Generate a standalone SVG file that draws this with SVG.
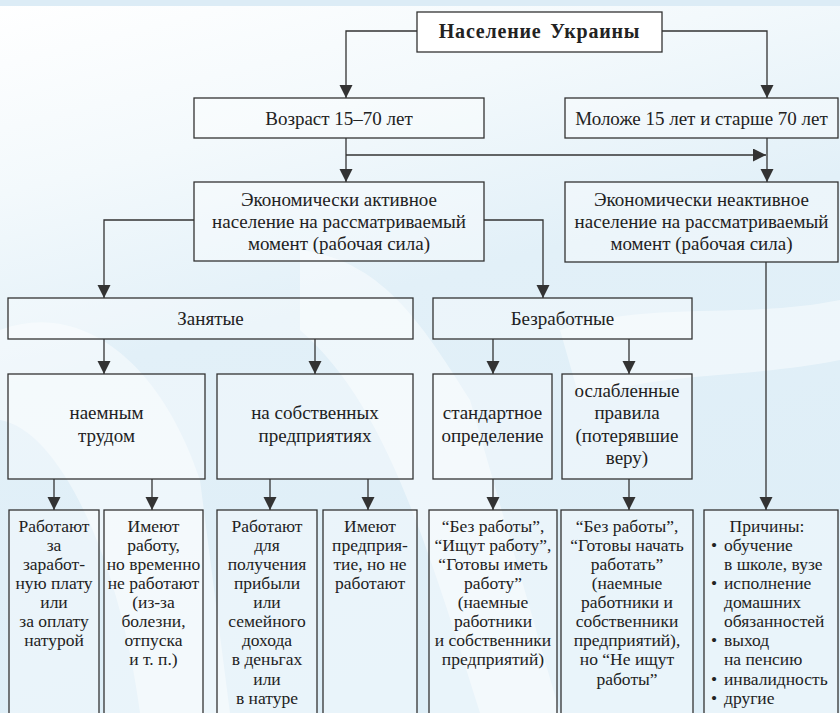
<svg xmlns="http://www.w3.org/2000/svg" width="840" height="713" viewBox="0 0 840 713" font-family="Liberation Serif, Times New Roman, Times, serif">
<defs>
<marker id="ah" markerUnits="userSpaceOnUse" markerWidth="14" markerHeight="14" refX="13" refY="6.5" orient="auto" viewBox="0 0 14 14">
<path d="M0,0 L13,6.5 L0,13 z" fill="#333"/>
</marker>
<linearGradient id="bg" x1="0" y1="0" x2="0.3" y2="1">
<stop offset="0" stop-color="#ffffff"/>
<stop offset="0.25" stop-color="#f3f9fc"/>
<stop offset="0.5" stop-color="#e2f0f8"/>
<stop offset="1" stop-color="#deeef7"/>
</linearGradient>
</defs>
<style>
text{font-family:"Liberation Serif","Times New Roman",Times,serif !important;font-style:normal}
.box{fill:#ffffff;fill-opacity:0.35;stroke:#333;stroke-width:1.3}
.c{fill:none;stroke:#333;stroke-width:1.3}
.m{font-size:19px;fill:#222;text-anchor:middle;font-weight:normal}
.s{font-size:17.5px;fill:#222;text-anchor:middle;font-weight:normal}
.sl{font-size:17.5px;fill:#222;text-anchor:start;font-weight:normal}
</style>
<rect x="0" y="0" width="840" height="713" fill="url(#bg)"/>
<rect x="0" y="0" width="840" height="6" fill="#dcecf6"/>
<g fill="#ffffff" fill-opacity="0.45">
<path d="M0,330 C80,300 160,360 200,480 L230,713 L140,713 C120,560 60,430 0,420 z"/>
<path d="M300,250 C380,260 420,320 470,400 L560,713 L480,713 C420,520 380,400 300,330 z"/>
<path d="M560,330 C650,300 740,320 840,300 L840,360 C740,380 660,370 580,400 z"/>
</g>

<g id="connectors">
<path class="c" d="M417,31 H346 V98" marker-end="url(#ah)"/>
<path class="c" d="M662,31 H767 V98" marker-end="url(#ah)"/>
<path class="c" d="M346,138 V182" marker-end="url(#ah)"/>
<path class="c" d="M346,155 H766" marker-end="url(#ah)"/>
<path class="c" d="M767,138 V182" marker-end="url(#ah)"/>
<path class="c" d="M194,220 H104 V298" marker-end="url(#ah)"/>
<path class="c" d="M484,220 H543 V298" marker-end="url(#ah)"/>
<path class="c" d="M104,339 V374" marker-end="url(#ah)"/>
<path class="c" d="M315,339 V374" marker-end="url(#ah)"/>
<path class="c" d="M493,339 V374" marker-end="url(#ah)"/>
<path class="c" d="M629,339 V374" marker-end="url(#ah)"/>
<path class="c" d="M54,479 V510" marker-end="url(#ah)"/>
<path class="c" d="M152,479 V510" marker-end="url(#ah)"/>
<path class="c" d="M270,479 V510" marker-end="url(#ah)"/>
<path class="c" d="M368,479 V510" marker-end="url(#ah)"/>
<path class="c" d="M493,479 V510" marker-end="url(#ah)"/>
<path class="c" d="M629,479 V510" marker-end="url(#ah)"/>
<path class="c" d="M766,262 V510" marker-end="url(#ah)"/>
</g>

<g id="n-root">
<rect class="box" x="417" y="12" width="245" height="40" style="fill-opacity:1"/>
<text x="539.5" y="38" font-family="Liberation Serif" font-size="20" font-weight="bold" letter-spacing="0.8" word-spacing="3" fill="#222" text-anchor="middle">Население Украины</text>
</g>
<g id="n-age">
<rect class="box" x="194" y="98" width="290" height="40"/>
<text class="m" x="339" y="125">Возраст 15–70 лет</text>
</g>
<g id="n-other-age">
<rect class="box" x="565" y="98" width="273" height="40"/>
<text class="m" x="701.5" y="125">Моложе 15 лет и старше 70 лет</text>
</g>
<g id="n-active">
<rect class="box" x="194" y="182" width="290" height="79"/>
<text class="m" x="339" y="206">Экономически активное</text>
<text class="m" x="339" y="228">население на рассматриваемый</text>
<text class="m" x="339" y="250">момент (рабочая сила)</text>
</g>
<g id="n-inactive">
<rect class="box" x="565" y="182" width="273" height="80"/>
<text class="m" x="701.5" y="206">Экономически неактивное</text>
<text class="m" x="701.5" y="228">население на рассматриваемый</text>
<text class="m" x="701.5" y="250">момент (рабочая сила)</text>
</g>
<g id="n-employed">
<rect class="box" x="8" y="298" width="405" height="41"/>
<text class="m" x="210.5" y="325">Занятые</text>
</g>
<g id="n-unemployed">
<rect class="box" x="433" y="298" width="259" height="41"/>
<text class="m" x="562.5" y="325">Безработные</text>
</g>
<g id="n-hired">
<rect class="box" x="8" y="374" width="197" height="105"/>
<text class="m" x="106.5" y="419">наемным</text>
<text class="m" x="106.5" y="442">трудом</text>
</g>
<g id="n-own">
<rect class="box" x="217" y="374" width="196" height="105"/>
<text class="m" x="315" y="419">на собственных</text>
<text class="m" x="315" y="442">предприятиях</text>
</g>
<g id="n-standard">
<rect class="box" x="433" y="374" width="119" height="105"/>
<text class="m" x="492.5" y="419">стандартное</text>
<text class="m" x="492.5" y="442">определение</text>
</g>
<g id="n-relaxed">
<rect class="box" x="562" y="374" width="130" height="105"/>
<text class="m" x="627" y="397">ослабленные</text>
<text class="m" x="627" y="419">правила</text>
<text class="m" x="627" y="442">(потерявшие</text>
<text class="m" x="627" y="464">веру)</text>
</g>

<g id="n-wage">
<rect class="box" x="9" y="510" width="90" height="215"/>
<text class="s" x="54" y="532">Работают</text>
<text class="s" x="54" y="551">за</text>
<text class="s" x="54" y="570">заработ-</text>
<text class="s" x="54" y="589">ную плату</text>
<text class="s" x="54" y="608">или</text>
<text class="s" x="54" y="627">за оплату</text>
<text class="s" x="54" y="646">натурой</text>
</g>
<g id="n-temp">
<rect class="box" x="104" y="510" width="99" height="215"/>
<text class="s" x="153.5" y="532">Имеют</text>
<text class="s" x="153.5" y="551">работу,</text>
<text class="s" x="153.5" y="570">но временно</text>
<text class="s" x="153.5" y="589">не работают</text>
<text class="s" x="153.5" y="608">(из-за</text>
<text class="s" x="153.5" y="627">болезни,</text>
<text class="s" x="153.5" y="646">отпуска</text>
<text class="s" x="153.5" y="665">и т. п.)</text>
</g>
<g id="n-profit">
<rect class="box" x="217" y="510" width="100" height="215"/>
<text class="s" x="267" y="532">Работают</text>
<text class="s" x="267" y="551">для</text>
<text class="s" x="267" y="570">получения</text>
<text class="s" x="267" y="589">прибыли</text>
<text class="s" x="267" y="608">или</text>
<text class="s" x="267" y="627">семейного</text>
<text class="s" x="267" y="646">дохода</text>
<text class="s" x="267" y="665">в деньгах</text>
<text class="s" x="267" y="685">или</text>
<text class="s" x="267" y="704">в натуре</text>
</g>
<g id="n-ownidle">
<rect class="box" x="323" y="510" width="94" height="215"/>
<text class="s" x="370" y="532">Имеют</text>
<text class="s" x="370" y="551">предприя-</text>
<text class="s" x="370" y="570">тие, но не</text>
<text class="s" x="370" y="589">работают</text>
</g>
<g id="n-std-def">
<rect class="box" x="429" y="510" width="128" height="215"/>
<text class="s" x="493" y="532">“Без работы”,</text>
<text class="s" x="493" y="551">“Ищут работу”,</text>
<text class="s" x="493" y="570">“Готовы иметь</text>
<text class="s" x="493" y="589">работу”</text>
<text class="s" x="493" y="608">(наемные</text>
<text class="s" x="493" y="627">работники</text>
<text class="s" x="493" y="646">и собственники</text>
<text class="s" x="493" y="665">предприятий)</text>
</g>
<g id="n-rel-def">
<rect class="box" x="561" y="510" width="132" height="215"/>
<text class="s" x="627" y="532">“Без работы”,</text>
<text class="s" x="627" y="551">“Готовы начать</text>
<text class="s" x="627" y="570">работать”</text>
<text class="s" x="627" y="589">(наемные</text>
<text class="s" x="627" y="608">работники и</text>
<text class="s" x="627" y="627">собственники</text>
<text class="s" x="627" y="646">предприятий),</text>
<text class="s" x="627" y="665">но “Не ищут</text>
<text class="s" x="627" y="685">работы”</text>
</g>
<g id="n-reasons">
<rect class="box" x="704" y="510" width="134" height="215"/>
<text class="s" x="767" y="532">Причины:</text>
<text class="sl" x="711" y="551">•</text>
<text class="sl" x="724" y="551">обучение</text>
<text class="sl" x="724" y="570">в школе, вузе</text>
<text class="sl" x="711" y="589">•</text>
<text class="sl" x="724" y="589">исполнение</text>
<text class="sl" x="724" y="608">домашних</text>
<text class="sl" x="724" y="627">обязанностей</text>
<text class="sl" x="711" y="646">•</text>
<text class="sl" x="724" y="646">выход</text>
<text class="sl" x="724" y="665">на пенсию</text>
<text class="sl" x="711" y="685">•</text>
<text class="sl" x="724" y="685">инвалидность</text>
<text class="sl" x="711" y="704">•</text>
<text class="sl" x="724" y="704">другие</text>
</g>
</svg>
